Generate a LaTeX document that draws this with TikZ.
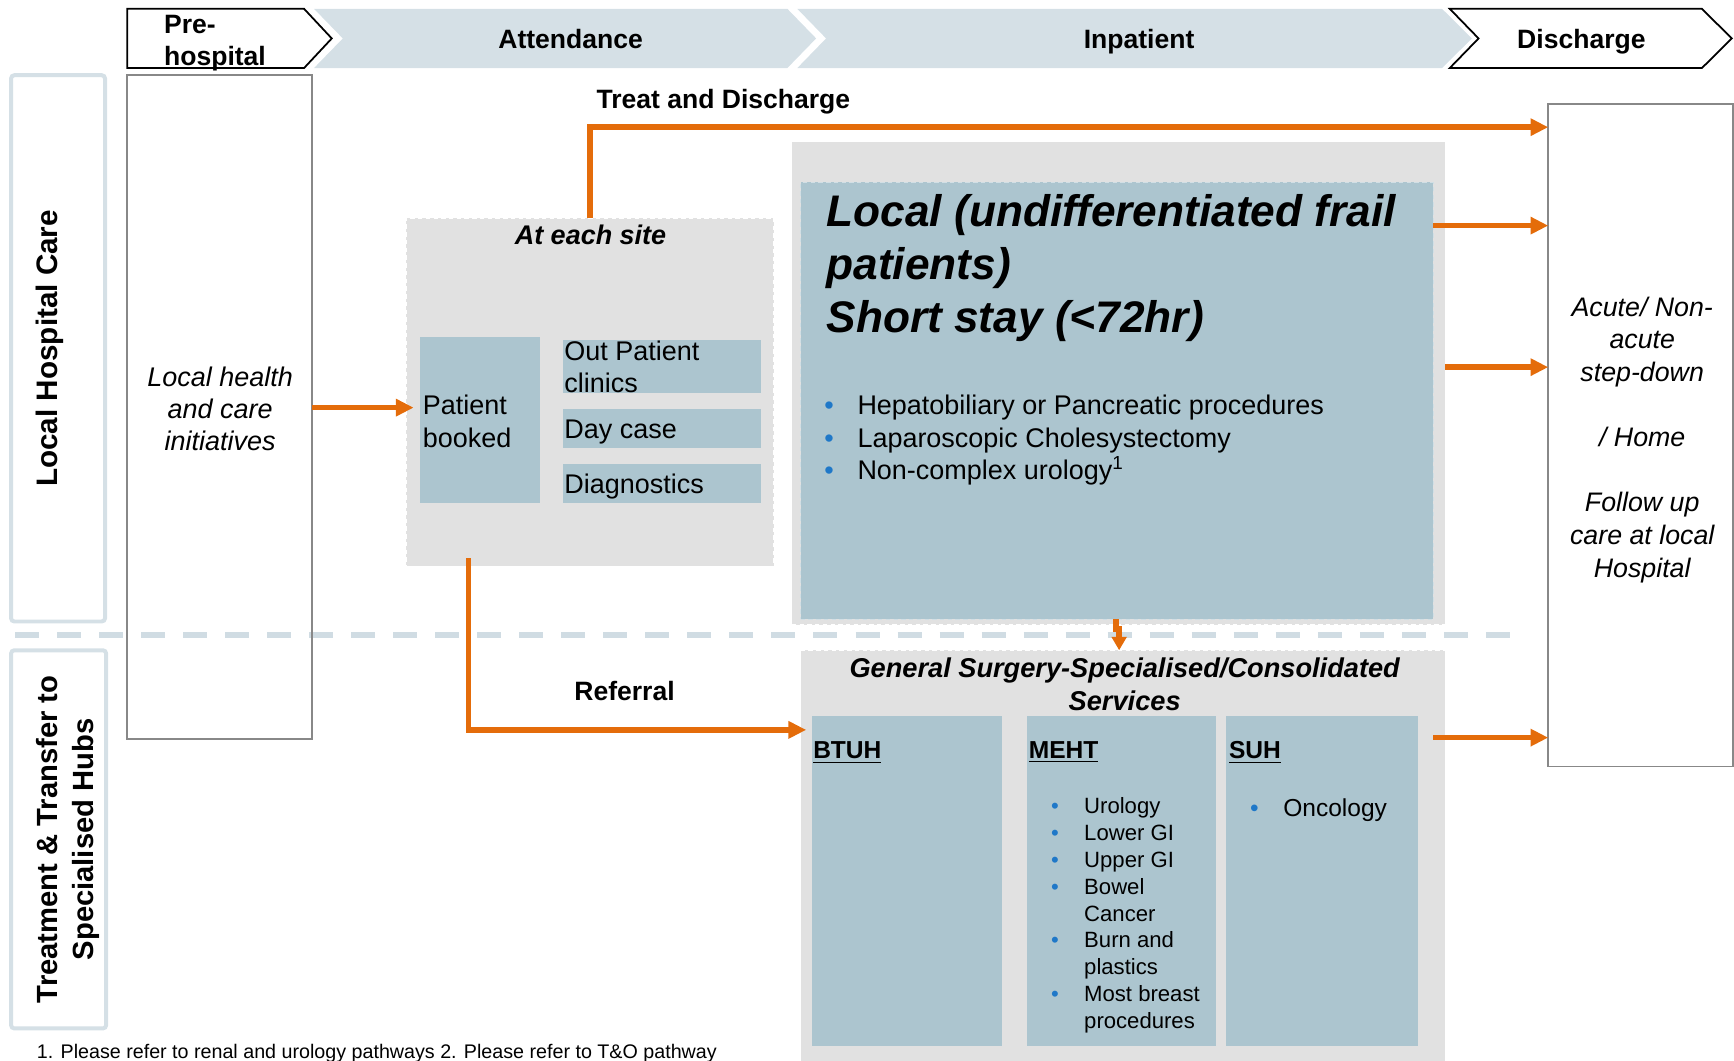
\documentclass[tikz,border=0pt]{standalone}
\usepackage{fontspec}
\setmainfont{Liberation Sans}
\usepackage{graphicx}
\usetikzlibrary{arrows.meta}

\definecolor{orng}{HTML}{E46C0A}
\definecolor{boxblue}{HTML}{ACC5CF}
\definecolor{boxgray}{HTML}{E1E1E1}
\definecolor{chev}{HTML}{D5E0E6}
\definecolor{bandline}{HTML}{D5E0E6}
\definecolor{sepcol}{HTML}{D0DCE3}
\definecolor{rulegray}{HTML}{888888}
\definecolor{bul}{HTML}{1F78C8}

% font size / baselineskip in pt
\newcommand\fs[2]{\fontsize{#1pt}{#2pt}\selectfont}
% blue list bullet followed by a fixed indent
\newcommand\bdot[1]{\makebox[#1][l]{\textcolor{bul}{\textbullet}}}
% rectangular area node from its top-left and bottom-right corners
\newcommand\areabox[6][]{%
  \pgfmathsetmacro\abW{(#5-(#3))*0.5}%
  \pgfmathsetmacro\abH{(#6-(#4))*0.5}%
  \node[#1,anchor=north west,inner sep=0pt,outer sep=0pt,
        minimum width=\abW pt,minimum height=\abH pt] (#2) at (#3,#4) {};}

\begin{document}
\begin{tikzpicture}[x=0.5pt,y=-0.5pt,
  arr/.style={draw=orng,line width=2.5pt,line join=miter,
              -{Triangle[length=8pt,width=7.5pt]}},
  arrsmall/.style={draw=orng,line width=2.5pt,line join=miter,
              -{Triangle[length=6pt,width=6.5pt]}},
  band/.style={draw=bandline,line width=1.8pt,rounded corners=1.5pt,fill=white},
  whitebox/.style={draw=rulegray,line width=0.75pt},
  graybox/.style={fill=boxgray,draw=white,line width=0.6pt,dash pattern=on 2pt off 1.5pt},
  bluebox/.style={fill=boxblue},
  softblue/.style={fill=boxblue,draw=boxblue!55!white,line width=0.6pt,dash pattern=on 2pt off 1.5pt},
  chevw/.style={fill=white,draw=black,line width=0.8pt,line join=miter},
  chevb/.style={fill=chev},
  sepline/.style={draw=sepcol,line width=2.7pt,dash pattern=on 10.85pt off 8.15pt},
  lbl/.style={font=\bfseries\fs{12}{14},inner sep=0pt},
  txt/.style={inner sep=0pt}]

\useasboundingbox (0,0) rectangle (1568,958.6);

% ---- lane bands on the left
\areabox[band]{lanelocal}{10}{68}{95}{562}
\areabox[band]{lanehubs}{10}{588}{96}{930}
\node[txt,rotate=90,font=\bfseries\fs{13.4}{16}] (lanelocaltxt) at (45,315) {Local Hospital Care};
\node[txt,rotate=90,font=\bfseries\fs{13.2}{16},align=center] (lanehubstxt) at (61.5,759)
  {Treatment \& Transfer to\\Specialised Hubs};

% ---- phase chevrons
\draw[chevw] (115,8) -- (275,8) -- (300,34.75) -- (275,61.5) -- (115,61.5) -- cycle;
\fill[chevb] (284,8) -- (712,8) -- (738,34.75) -- (712,61.5) -- (284,61.5) -- (310,34.75) -- cycle;
\fill[chevb] (721,8) -- (1304,8) -- (1331,34.75) -- (1304,61.5) -- (721,61.5) -- (747,34.75) -- cycle;
\draw[chevw] (1311,8) -- (1539,8) -- (1566,34.75) -- (1539,61.5) -- (1311,61.5) -- (1337,34.75) -- cycle;
\node[txt,font=\bfseries\fs{12}{14.5},align=left,anchor=north west] (prehdr) at (148,9.5) {\strut Pre-\\hospital};
\node[lbl,anchor=base] (atthdr) at (516,44) {Attendance};
\node[lbl,anchor=base] (inphdr) at (1030,44) {Inpatient};
\node[lbl,anchor=base] (dishdr) at (1430,44) {Discharge};

% ---- separator between local care and specialised hubs
\draw[sepline] (13.6,574.5) -- (1365,574.5);

% ---- pre-hospital column
\areabox[whitebox]{prehosp}{115}{68}{282}{668}
\node[txt,font=\itshape\fs{12.2}{14.5},align=center] (prehosptxt) at (199,370)
  {Local health\\and care\\initiatives};

% ---- attendance at each site
\areabox[graybox]{atsite}{367}{197}{700}{512}
\node[txt,font=\bfseries\itshape\fs{12.2}{14},anchor=base] (atsitetxt) at (534,221) {At each site};
\areabox[bluebox]{booked}{380}{305}{488}{455}
\node[txt,font=\fs{12.2}{15},align=left,anchor=north west] (bookedtxt) at (382,353.7) {\strut Patient\\booked};
\areabox[bluebox]{opc}{509}{307}{688}{355}
\node[txt,font=\fs{12.2}{14.5},align=left,anchor=north west] (opctxt) at (510,305.2) {\strut Out Patient\\clinics};
\areabox[bluebox]{daycase}{509}{370}{688}{405}
\node[txt,font=\fs{12.2}{14.5},anchor=base west] (daycasetxt) at (510,396.4) {Day case};
\areabox[bluebox]{diag}{509}{420}{688}{455}
\node[txt,font=\fs{12.2}{14.5},anchor=base west] (diagtxt) at (510,446) {Diagnostics};

% ---- inpatient: local short stay
\areabox[graybox]{inpt}{716}{128}{1307}{565}
\areabox[softblue]{local}{724}{165}{1296}{560}
\node[txt,font=\bfseries\itshape\fs{20}{24},align=left,anchor=north west] (localtitle) at (747,170.4)
  {\strut Local (undifferentiated frail\\patients)\\Short stay (<72hr)};
\node[txt,font=\fs{12.2}{14.65},align=left,anchor=north west] (localitems) at (745,354)
  {\strut\bdot{15pt}Hepatobiliary or Pancreatic procedures\\
   \bdot{15pt}Laparoscopic Cholesystectomy\\
   \bdot{15pt}Non-complex urology\textsuperscript{1}};

% ---- specialised / consolidated services
\areabox[graybox]{gs}{724}{588}{1307}{980}
\node[txt,font=\bfseries\itshape\fs{12.3}{15},align=center,anchor=north] (gstitle) at (1017,591)
  {\strut General Surgery-Specialised/Consolidated\\Services};
\areabox[bluebox]{btuh}{734}{647}{906}{946}
\areabox[bluebox]{meht}{929}{647}{1100}{946}
\areabox[bluebox]{suh}{1109}{647}{1282}{946}
\node[txt,font=\bfseries\fs{11.1}{13},anchor=base west] (btuhhd) at (735,686) {\underline{BTUH}};
\node[txt,font=\bfseries\fs{11.1}{13},anchor=base west] (mehthd) at (930,686) {\underline{MEHT}};
\node[txt,font=\bfseries\fs{11.1}{13},anchor=base west] (suhhd) at (1111,686) {\underline{SUH}};
\node[txt,font=\fs{10}{12.125},align=left,anchor=north west] (mehtitems) at (950,718.5)
  {\strut\bdot{15pt}Urology\\
   \bdot{15pt}Lower GI\\
   \bdot{15pt}Upper GI\\
   \bdot{15pt}Bowel\\
   \hspace*{15pt}Cancer\\
   \bdot{15pt}Burn and\\
   \hspace*{15pt}plastics\\
   \bdot{15pt}Most breast\\
   \hspace*{15pt}procedures};
\node[txt,font=\fs{11.1}{13},anchor=base west] (suhitems) at (1130,738) {\bdot{15pt}Oncology};

% ---- discharge destinations
\areabox[whitebox]{disch}{1400}{94}{1567}{693}
\node[txt,font=\itshape\fs{12.1}{14.75},align=center,anchor=north] (dischtxt) at (1485,264.85)
  {\strut Acute/ Non-\\acute\\step-down\\[14.75pt]/ Home\\[14.75pt]Follow up\\care at local\\Hospital};

% ---- flow labels
\node[lbl,anchor=base west] (tdlabel) at (539,98) {Treat and Discharge};
\node[lbl,anchor=base west] (reflabel) at (519,633.5) {Referral};

% ---- connectors
\draw[arr,shorten >=3pt] (prehosp.east |- 0,368.6) -- (booked.west |- 0,368.6);
\draw[arr] (atsite.north -| 533.5,0) |- (disch.west |- 0,115);
\draw[arr] (local.east |- 0,204) -- (disch.west |- 0,204);
\draw[arr] (inpt.east |- 0,332) -- (disch.west |- 0,332);
\draw[arr,shorten <=7pt] (suh.east |- 0,667) -- (disch.west |- 0,667);
\draw[arr,shorten <=-3.5pt,shorten >=2.5pt] (atsite.south -| 423.5,0) |- (btuh.west |- 0,660);
\draw[arrsmall] (local.south -| 1009,0) -- ++(0,9) -- ++(3,0) -- (gs.north -| 1012,0);

% ---- footnote
\node[txt,font=\fs{8.9}{10},anchor=base west] (footnote) at (33,957)
  {1. Please refer to renal and urology pathways 2. Please refer to T\&O pathway};

\end{tikzpicture}
\end{document}
